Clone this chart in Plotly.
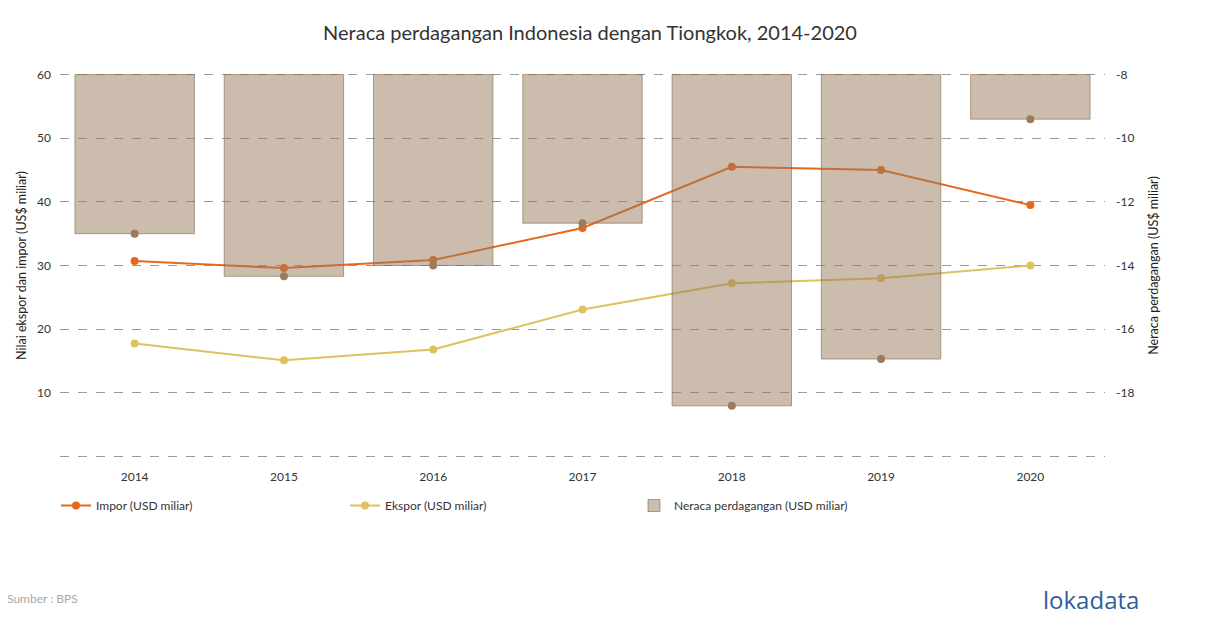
import plotly.graph_objects as go

years = ["2014", "2015", "2016", "2017", "2018", "2019", "2020"]
impor = [30.7, 29.6, 30.85, 35.9, 45.5, 45.0, 39.5]
ekspor = [17.75, 15.1, 16.8, 23.1, 27.2, 28.0, 30.0]
neraca = [-13.0, -14.34, -14.0, -12.67, -18.41, -16.94, -9.40]

left_ticks = [0, 10, 20, 30, 40, 50, 60]
left_labels = ["", "10", "20", "30", "40", "50", "60"]
right_ticks = [-20, -18, -16, -14, -12, -10, -8]
right_labels = ["", "-18", "-16", "-14", "-12", "-10", "-8"]
bar_top = -8

FONT = "Lato"
# page body has an 8px margin; figure sized so the page content fills 1210x628
OFF = 8
W, H = 1210 - OFF, 628 - OFF
PPU = (456 - 75) / 60.0          # px per left-axis unit
eps = 0.25                        # small range padding so edge gridlines draw
pad = eps * PPU
L = 60 - OFF
T = 75 - OFF - pad
R = 105
B = H - (456 - OFF) - pad
PW = W - L - R
PH = H - T - B
BOTTOM = 456 + pad               # absolute y of paper bottom


def below(y_abs):
    return -(y_abs - BOTTOM) / PH


fig = go.Figure()

fig.add_trace(go.Scatter(
    x=years, y=impor, name="Impor (USD miliar)", mode="lines+markers",
    line=dict(color="#e8671c", width=2), marker=dict(color="#e8671c", size=8),
    yaxis="y"))
fig.add_trace(go.Scatter(
    x=years, y=ekspor, name="Ekspor (USD miliar)", mode="lines+markers",
    line=dict(color="#dfc15e", width=2), marker=dict(color="#dfc15e", size=8),
    yaxis="y"))
fig.add_trace(go.Bar(
    x=years, y=[v - bar_top for v in neraca], base=bar_top,
    name="Neraca perdagangan (USD miliar)", yaxis="y2", width=0.8,
    marker=dict(color="rgba(151,121,91,0.5)",
                line=dict(color="rgba(130,105,80,0.6)", width=1))))
fig.add_trace(go.Scatter(
    x=years, y=neraca, mode="markers", showlegend=False, yaxis="y2",
    marker=dict(color="#9b7b5b", size=8)))

fig.update_layout(
    width=W, height=H,
    margin=dict(l=L, r=R, t=T, b=B, autoexpand=False),
    paper_bgcolor="white", plot_bgcolor="white",
    font=dict(family=FONT, size=12, color="#333333"),
    title=dict(text="Neraca perdagangan Indonesia dengan Tiongkok, 2014-2020",
               x=(590 - OFF) / W, xanchor="center", xref="container",
               y=1 - (33 - OFF) / H, yanchor="middle", yref="container",
               font=dict(family=FONT, size=20, color="#333333")),
    xaxis=dict(type="category", range=[-0.5, 6.5], showgrid=False,
               showline=False, ticks="", automargin=False,
               tickfont=dict(size=12, color="#333333"), ticklabelstandoff=10),
    yaxis=dict(range=[0 - eps, 60 + eps], tickvals=left_ticks, ticktext=left_labels,
               showgrid=True, gridcolor="#9a9a9a", griddash="dash", gridwidth=1,
               zeroline=False, showline=False, ticks="", automargin=False,
               tickfont=dict(size=12, color="#333333"), ticklabelstandoff=8,
               title=dict(text="Nilai ekspor dan impor (US$ miliar)",
                          font=dict(size=12.5, color="#222222"), standoff=7)),
    yaxis2=dict(range=[-20 - eps / 5, -8 + eps / 5], tickvals=right_ticks,
                ticktext=right_labels, automargin=False,
                overlaying="y", side="right", showgrid=False, zeroline=False,
                showline=False, ticks="",
                tickfont=dict(size=12, color="#333333"), ticklabelstandoff=10,
                title=dict(text="Neraca perdagangan (US$ miliar)",
                           font=dict(size=12.5, color="#222222"), standoff=15)),
    legend=dict(orientation="h", x=(56 - OFF - L) / PW, xanchor="left",
                y=below(505), yanchor="middle",
                entrywidth=244, entrywidthmode="pixels",
                font=dict(size=12, color="#333333"), traceorder="normal",
                bgcolor="rgba(0,0,0,0)"),
    bargap=0.2,
)

fig.add_annotation(text="Sumber : BPS", xref="paper", yref="paper",
                   x=(5 - 60) / PW, y=below(598), xanchor="left",
                   yanchor="middle", showarrow=False,
                   font=dict(family=FONT, size=12, color="#a8a8a8"))
fig.add_annotation(text="lokadata", xref="paper", yref="paper",
                   x=(1141 - 60) / PW, y=below(599), xanchor="right",
                   yanchor="middle", showarrow=False,
                   font=dict(family="Open Sans", size=24, color="#2f5e9e"))

fig.write_html("out.html")
